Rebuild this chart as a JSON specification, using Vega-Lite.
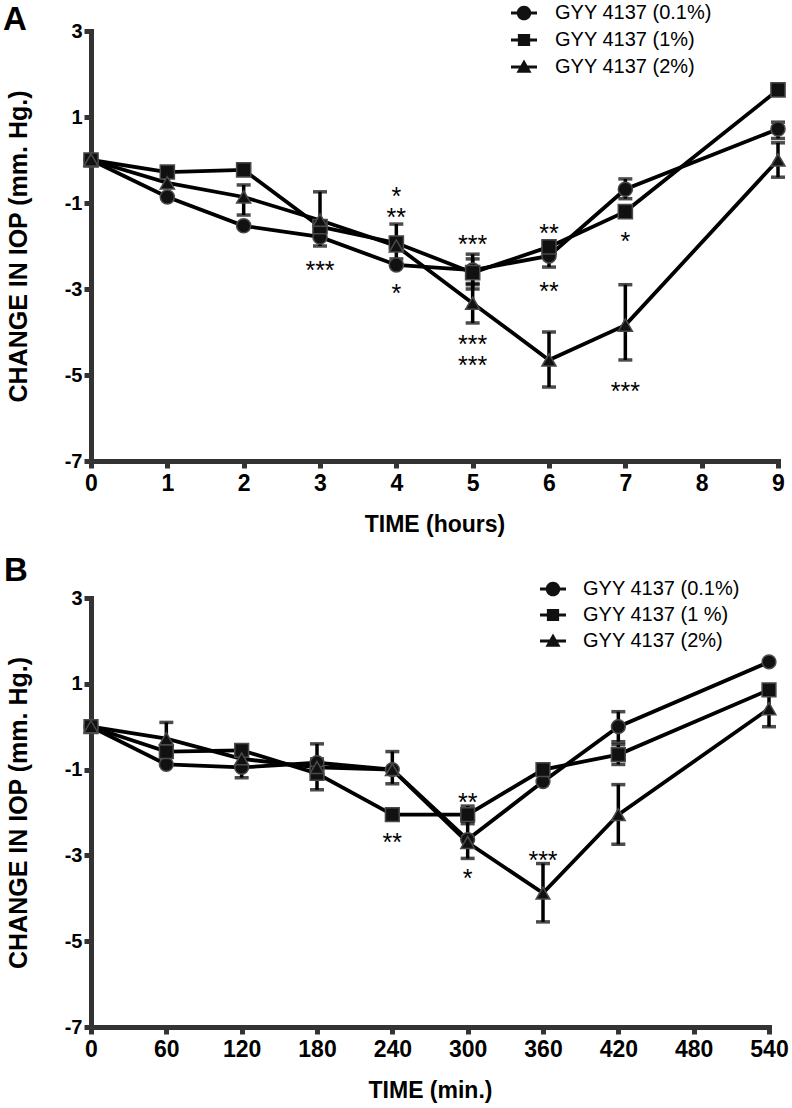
{
  "$schema": "https://vega.github.io/schema/vega-lite/v6.json",
  "background": "white",
  "padding": {"top": 0, "left": 3, "right": 5, "bottom": 5},
  "spacing": 137,
  "bounds": "flush",
  "datasets": {
    "a": [
      {"series": "GYY 4137 (0.1%)", "time": 0, "value": 0},
      {"series": "GYY 4137 (0.1%)", "time": 1, "value": -0.86},
      {"series": "GYY 4137 (0.1%)", "time": 2, "value": -1.53},
      {"series": "GYY 4137 (0.1%)", "time": 3, "value": -1.79},
      {"series": "GYY 4137 (0.1%)", "time": 4, "value": -2.44},
      {"series": "GYY 4137 (0.1%)", "time": 5, "value": -2.56},
      {"series": "GYY 4137 (0.1%)", "time": 6, "value": -2.23},
      {"series": "GYY 4137 (0.1%)", "time": 7, "value": -0.68},
      {"series": "GYY 4137 (0.1%)", "time": 9, "value": 0.72},
      {"series": "GYY 4137 (1%)", "time": 0, "value": 0},
      {"series": "GYY 4137 (1%)", "time": 1, "value": -0.28},
      {"series": "GYY 4137 (1%)", "time": 2, "value": -0.23},
      {"series": "GYY 4137 (1%)", "time": 3, "value": -1.55},
      {"series": "GYY 4137 (1%)", "time": 4, "value": -1.93},
      {"series": "GYY 4137 (1%)", "time": 5, "value": -2.62},
      {"series": "GYY 4137 (1%)", "time": 6, "value": -2.02},
      {"series": "GYY 4137 (1%)", "time": 7, "value": -1.2},
      {"series": "GYY 4137 (1%)", "time": 9, "value": 1.63},
      {"series": "GYY 4137 (2%)", "time": 0, "value": 0},
      {"series": "GYY 4137 (2%)", "time": 1, "value": -0.53},
      {"series": "GYY 4137 (2%)", "time": 2, "value": -0.86},
      {"series": "GYY 4137 (2%)", "time": 3, "value": -1.4},
      {"series": "GYY 4137 (2%)", "time": 4, "value": -2.0},
      {"series": "GYY 4137 (2%)", "time": 5, "value": -3.33},
      {"series": "GYY 4137 (2%)", "time": 6, "value": -4.65},
      {"series": "GYY 4137 (2%)", "time": 7, "value": -3.84},
      {"series": "GYY 4137 (2%)", "time": 9, "value": 0.0}
    ],
    "a_err": [
      {"series": "GYY 4137 (0.1%)", "time": 5, "lo": -2.9, "hi": -2.19},
      {"series": "GYY 4137 (0.1%)", "time": 6, "lo": -2.49, "hi": -2.0},
      {"series": "GYY 4137 (0.1%)", "time": 7, "lo": -0.9, "hi": -0.44},
      {"series": "GYY 4137 (0.1%)", "time": 9, "lo": 0.5, "hi": 0.88},
      {"series": "GYY 4137 (1%)", "time": 4, "lo": -2.3, "hi": -1.49},
      {"series": "GYY 4137 (1%)", "time": 5, "lo": -3.0, "hi": -2.3},
      {"series": "GYY 4137 (2%)", "time": 2, "lo": -1.28, "hi": -0.58},
      {"series": "GYY 4137 (2%)", "time": 3, "lo": -2.0, "hi": -0.74},
      {"series": "GYY 4137 (2%)", "time": 5, "lo": -3.79, "hi": -2.87},
      {"series": "GYY 4137 (2%)", "time": 6, "lo": -5.28, "hi": -4.0},
      {"series": "GYY 4137 (2%)", "time": 7, "lo": -4.65, "hi": -2.9},
      {"series": "GYY 4137 (2%)", "time": 9, "lo": -0.4, "hi": 0.4}
    ],
    "a_stars": [
      {"time": 3, "y": -2.44, "label": "***"},
      {"time": 4, "y": -0.72, "label": "*"},
      {"time": 4, "y": -1.21, "label": "**"},
      {"time": 4, "y": -2.98, "label": "*"},
      {"time": 5, "y": -1.84, "label": "***"},
      {"time": 5, "y": -4.17, "label": "***"},
      {"time": 5, "y": -4.65, "label": "***"},
      {"time": 6, "y": -1.58, "label": "**"},
      {"time": 6, "y": -2.93, "label": "**"},
      {"time": 7, "y": -1.77, "label": "*"},
      {"time": 7, "y": -5.26, "label": "***"}
    ],
    "b": [
      {"series": "GYY 4137 (0.1%)", "time": 0, "value": 0},
      {"series": "GYY 4137 (0.1%)", "time": 60, "value": -0.88},
      {"series": "GYY 4137 (0.1%)", "time": 120, "value": -0.95},
      {"series": "GYY 4137 (0.1%)", "time": 180, "value": -0.84},
      {"series": "GYY 4137 (0.1%)", "time": 240, "value": -1.0},
      {"series": "GYY 4137 (0.1%)", "time": 300, "value": -2.63},
      {"series": "GYY 4137 (0.1%)", "time": 360, "value": -1.28},
      {"series": "GYY 4137 (0.1%)", "time": 420, "value": 0.0},
      {"series": "GYY 4137 (0.1%)", "time": 540, "value": 1.51},
      {"series": "GYY 4137 (1 %)", "time": 0, "value": 0},
      {"series": "GYY 4137 (1 %)", "time": 60, "value": -0.58},
      {"series": "GYY 4137 (1 %)", "time": 120, "value": -0.55},
      {"series": "GYY 4137 (1 %)", "time": 180, "value": -1.09},
      {"series": "GYY 4137 (1 %)", "time": 240, "value": -2.05},
      {"series": "GYY 4137 (1 %)", "time": 300, "value": -2.05},
      {"series": "GYY 4137 (1 %)", "time": 360, "value": -1.0},
      {"series": "GYY 4137 (1 %)", "time": 420, "value": -0.65},
      {"series": "GYY 4137 (1 %)", "time": 540, "value": 0.86},
      {"series": "GYY 4137 (2%)", "time": 0, "value": 0},
      {"series": "GYY 4137 (2%)", "time": 60, "value": -0.28},
      {"series": "GYY 4137 (2%)", "time": 120, "value": -0.75},
      {"series": "GYY 4137 (2%)", "time": 180, "value": -0.95},
      {"series": "GYY 4137 (2%)", "time": 240, "value": -1.0},
      {"series": "GYY 4137 (2%)", "time": 300, "value": -2.7},
      {"series": "GYY 4137 (2%)", "time": 360, "value": -3.88},
      {"series": "GYY 4137 (2%)", "time": 420, "value": -2.05},
      {"series": "GYY 4137 (2%)", "time": 540, "value": 0.42}
    ],
    "b_err": [
      {"series": "GYY 4137 (0.1%)", "time": 120, "lo": -1.19, "hi": -0.7},
      {"series": "GYY 4137 (0.1%)", "time": 180, "lo": -1.2, "hi": -0.4},
      {"series": "GYY 4137 (0.1%)", "time": 240, "lo": -1.33, "hi": -0.58},
      {"series": "GYY 4137 (0.1%)", "time": 300, "lo": -3.07, "hi": -2.2},
      {"series": "GYY 4137 (0.1%)", "time": 420, "lo": -0.35, "hi": 0.35},
      {"series": "GYY 4137 (1 %)", "time": 180, "lo": -1.47, "hi": -0.75},
      {"series": "GYY 4137 (1 %)", "time": 300, "lo": -2.26, "hi": -1.85},
      {"series": "GYY 4137 (1 %)", "time": 420, "lo": -0.88, "hi": -0.42},
      {"series": "GYY 4137 (2%)", "time": 60, "lo": -0.66, "hi": 0.1},
      {"series": "GYY 4137 (2%)", "time": 360, "lo": -4.55, "hi": -3.19},
      {"series": "GYY 4137 (2%)", "time": 420, "lo": -2.74, "hi": -1.35},
      {"series": "GYY 4137 (2%)", "time": 540, "lo": 0.0, "hi": 0.84}
    ],
    "b_stars": [
      {"time": 240, "y": -2.56, "label": "**"},
      {"time": 300, "y": -1.63, "label": "**"},
      {"time": 300, "y": -3.42, "label": "*"},
      {"time": 360, "y": -2.98, "label": "***"}
    ]
  },
  "vconcat": [
    {
      "width": 687,
      "height": 430,
      "title": {"text": "A", "anchor": "start", "frame": "group", "fontSize": 33, "font": "Liberation Sans", "fontWeight": "bold", "color": "black", "dx": -88, "dy": 35, "offset": -2},
      "resolve": {"scale": {"shape": "independent"}},
      "layer": [
        {
          "mark": {"type": "rule", "color": "#c8c8c8", "strokeDash": [2, 2], "strokeWidth": 1},
          "encoding": {"y": {"datum": 0, "type": "quantitative"}}
        },
        {
          "data": {"name": "a"},
          "mark": {"type": "line", "color": "black", "strokeWidth": 3.8},
          "encoding": {
            "x": {"field": "time", "type": "quantitative", "scale": {"domain": [0, 9], "nice": false, "zero": false}, "axis": {"values": [0, 1, 2, 3, 4, 5, 6, 7, 8, 9], "labelExpr": "'' + datum.value", "title": "TIME (hours)"}},
            "y": {"field": "value", "type": "quantitative", "scale": {"domain": [-7, 3], "nice": false, "zero": false}, "axis": {"values": [-7, -5, -3, -1, 1, 3], "labelExpr": "'' + datum.value", "title": "CHANGE IN IOP (mm. Hg.)"}},
            "detail": {"field": "series", "type": "nominal"}
          }
        },
        {
          "mark": {"type": "rule", "color": "black", "strokeWidth": 1.8},
          "encoding": {"y": {"datum": 1, "type": "quantitative"}}
        },
        {
          "data": {"name": "a_err"},
          "mark": {"type": "errorbar", "ticks": {"size": 14}, "thickness": 3.5, "color": "black"},
          "encoding": {
            "x": {"field": "time", "type": "quantitative", "title": "TIME (hours)"},
            "y": {"field": "lo", "type": "quantitative", "title": "CHANGE IN IOP (mm. Hg.)"},
            "y2": {"field": "hi"}
          }
        },
        {
          "data": {"name": "a"},
          "mark": {"type": "point", "filled": true, "opacity": 1, "size": 200, "fill": "#111", "stroke": "#4a4a4a", "strokeWidth": 1.5},
          "encoding": {
            "x": {"field": "time", "type": "quantitative", "title": "TIME (hours)"},
            "y": {"field": "value", "type": "quantitative", "title": "CHANGE IN IOP (mm. Hg.)"},
            "shape": {"field": "series", "type": "nominal", "scale": {"domain": ["GYY 4137 (0.1%)", "GYY 4137 (1%)", "GYY 4137 (2%)"], "range": ["circle", "square", "triangle-up"]}, "legend": null}
          }
        },
        {
          "data": {"name": "a_stars"},
          "mark": {"type": "text", "font": "Liberation Sans", "fontSize": 25, "color": "black", "baseline": "alphabetic", "dy": 14},
          "encoding": {
            "x": {"field": "time", "type": "quantitative", "title": "TIME (hours)"},
            "y": {"field": "y", "type": "quantitative", "title": "CHANGE IN IOP (mm. Hg.)"},
            "text": {"field": "label", "type": "nominal"}
          }
        },
        {
          "data": {"values": []},
          "mark": {"type": "point", "filled": true, "opacity": 1, "color": "#111"},
          "encoding": {
            "shape": {
              "field": "series", "type": "nominal",
              "scale": {"domain": ["GYY 4137 (0.1%)", "GYY 4137 (1%)", "GYY 4137 (2%)"], "range": [
                "M-1,-0.12H1V0.12H-1Z M0.56,0A0.56,0.56 0 1,1 -0.56,0A0.56,0.56 0 1,1 0.56,0Z",
                "M-1,-0.12H1V0.12H-1Z M-0.47,-0.47H0.47V0.47H-0.47Z",
                "M-1,-0.12H1V0.12H-1Z M0,-0.58L0.58,0.45H-0.58Z"
              ]},
              "legend": {"orient": "none", "legendX": 420, "legendY": -31, "title": null, "symbolSize": 676, "rowPadding": 4, "labelOffset": 18, "labelFontSize": 20, "labelFont": "Liberation Sans", "labelColor": "black", "symbolFillColor": "#111", "symbolStrokeColor": "#111", "symbolStrokeWidth": 0, "symbolOpacity": 1}
            }
          }
        }
      ]
    },
    {
      "width": 678,
      "height": 429,
      "title": {"text": "B", "anchor": "start", "frame": "group", "fontSize": 33, "font": "Liberation Sans", "fontWeight": "bold", "color": "black", "dx": -87, "dy": 10, "offset": -2},
      "resolve": {"scale": {"shape": "independent"}},
      "layer": [
        {
          "data": {"name": "b"},
          "mark": {"type": "line", "color": "black", "strokeWidth": 3.8},
          "encoding": {
            "x": {"field": "time", "type": "quantitative", "scale": {"domain": [0, 540], "nice": false, "zero": false}, "axis": {"values": [0, 60, 120, 180, 240, 300, 360, 420, 480, 540], "labelExpr": "'' + datum.value", "title": "TIME (min.)"}},
            "y": {"field": "value", "type": "quantitative", "scale": {"domain": [-7, 3], "nice": false, "zero": false}, "axis": {"values": [-7, -5, -3, -1, 1, 3], "labelExpr": "'' + datum.value", "title": "CHANGE IN IOP (mm. Hg.)"}},
            "detail": {"field": "series", "type": "nominal"}
          }
        },
        {
          "mark": {"type": "rule", "color": "black", "strokeWidth": 1.8},
          "encoding": {"y": {"datum": 1, "type": "quantitative"}}
        },
        {
          "data": {"name": "b_err"},
          "mark": {"type": "errorbar", "ticks": {"size": 14}, "thickness": 3.5, "color": "black"},
          "encoding": {
            "x": {"field": "time", "type": "quantitative", "title": "TIME (min.)"},
            "y": {"field": "lo", "type": "quantitative", "title": "CHANGE IN IOP (mm. Hg.)"},
            "y2": {"field": "hi"}
          }
        },
        {
          "data": {"name": "b"},
          "mark": {"type": "point", "filled": true, "opacity": 1, "size": 190, "fill": "#111", "stroke": "#4a4a4a", "strokeWidth": 1.5},
          "encoding": {
            "x": {"field": "time", "type": "quantitative", "title": "TIME (min.)"},
            "y": {"field": "value", "type": "quantitative", "title": "CHANGE IN IOP (mm. Hg.)"},
            "shape": {"field": "series", "type": "nominal", "scale": {"domain": ["GYY 4137 (0.1%)", "GYY 4137 (1 %)", "GYY 4137 (2%)"], "range": ["circle", "square", "triangle-up"]}, "legend": null}
          }
        },
        {
          "data": {"name": "b_stars"},
          "mark": {"type": "text", "font": "Liberation Sans", "fontSize": 25, "color": "black", "baseline": "alphabetic", "dy": 14},
          "encoding": {
            "x": {"field": "time", "type": "quantitative", "title": "TIME (min.)"},
            "y": {"field": "y", "type": "quantitative", "title": "CHANGE IN IOP (mm. Hg.)"},
            "text": {"field": "label", "type": "nominal"}
          }
        },
        {
          "data": {"values": []},
          "mark": {"type": "point", "filled": true, "opacity": 1, "color": "#111"},
          "encoding": {
            "shape": {
              "field": "series", "type": "nominal",
              "scale": {"domain": ["GYY 4137 (0.1%)", "GYY 4137 (1 %)", "GYY 4137 (2%)"], "range": [
                "M-1,-0.12H1V0.12H-1Z M0.56,0A0.56,0.56 0 1,1 -0.56,0A0.56,0.56 0 1,1 0.56,0Z",
                "M-1,-0.12H1V0.12H-1Z M-0.47,-0.47H0.47V0.47H-0.47Z",
                "M-1,-0.12H1V0.12H-1Z M0,-0.58L0.58,0.45H-0.58Z"
              ]},
              "legend": {"orient": "none", "legendX": 449, "legendY": -22, "title": null, "symbolSize": 676, "rowPadding": 3, "labelOffset": 17, "labelFontSize": 20, "labelFont": "Liberation Sans", "labelColor": "black", "symbolFillColor": "#111", "symbolStrokeColor": "#111", "symbolStrokeWidth": 0, "symbolOpacity": 1}
            }
          }
        }
      ]
    }
  ],
  "config": {
    "view": {"stroke": null},
    "font": "Liberation Sans",
    "axis": {"grid": false, "domainColor": "#333", "domainWidth": 5, "domainCap": "square", "tickColor": "#333", "tickWidth": 5, "tickSize": 7, "labelColor": "black", "labelFont": "Liberation Sans", "labelFontWeight": "bold", "titleFont": "Liberation Sans", "titleFontWeight": "bold", "titleColor": "black", "labelFlush": false, "labelOverlap": false},
    "axisX": {"labelFontSize": 23, "titleFontSize": 23, "labelPadding": 4, "titlePadding": 18},
    "axisY": {"labelFontSize": 20, "titleFontSize": 25, "labelPadding": 2, "titlePadding": 33}
  }
}
